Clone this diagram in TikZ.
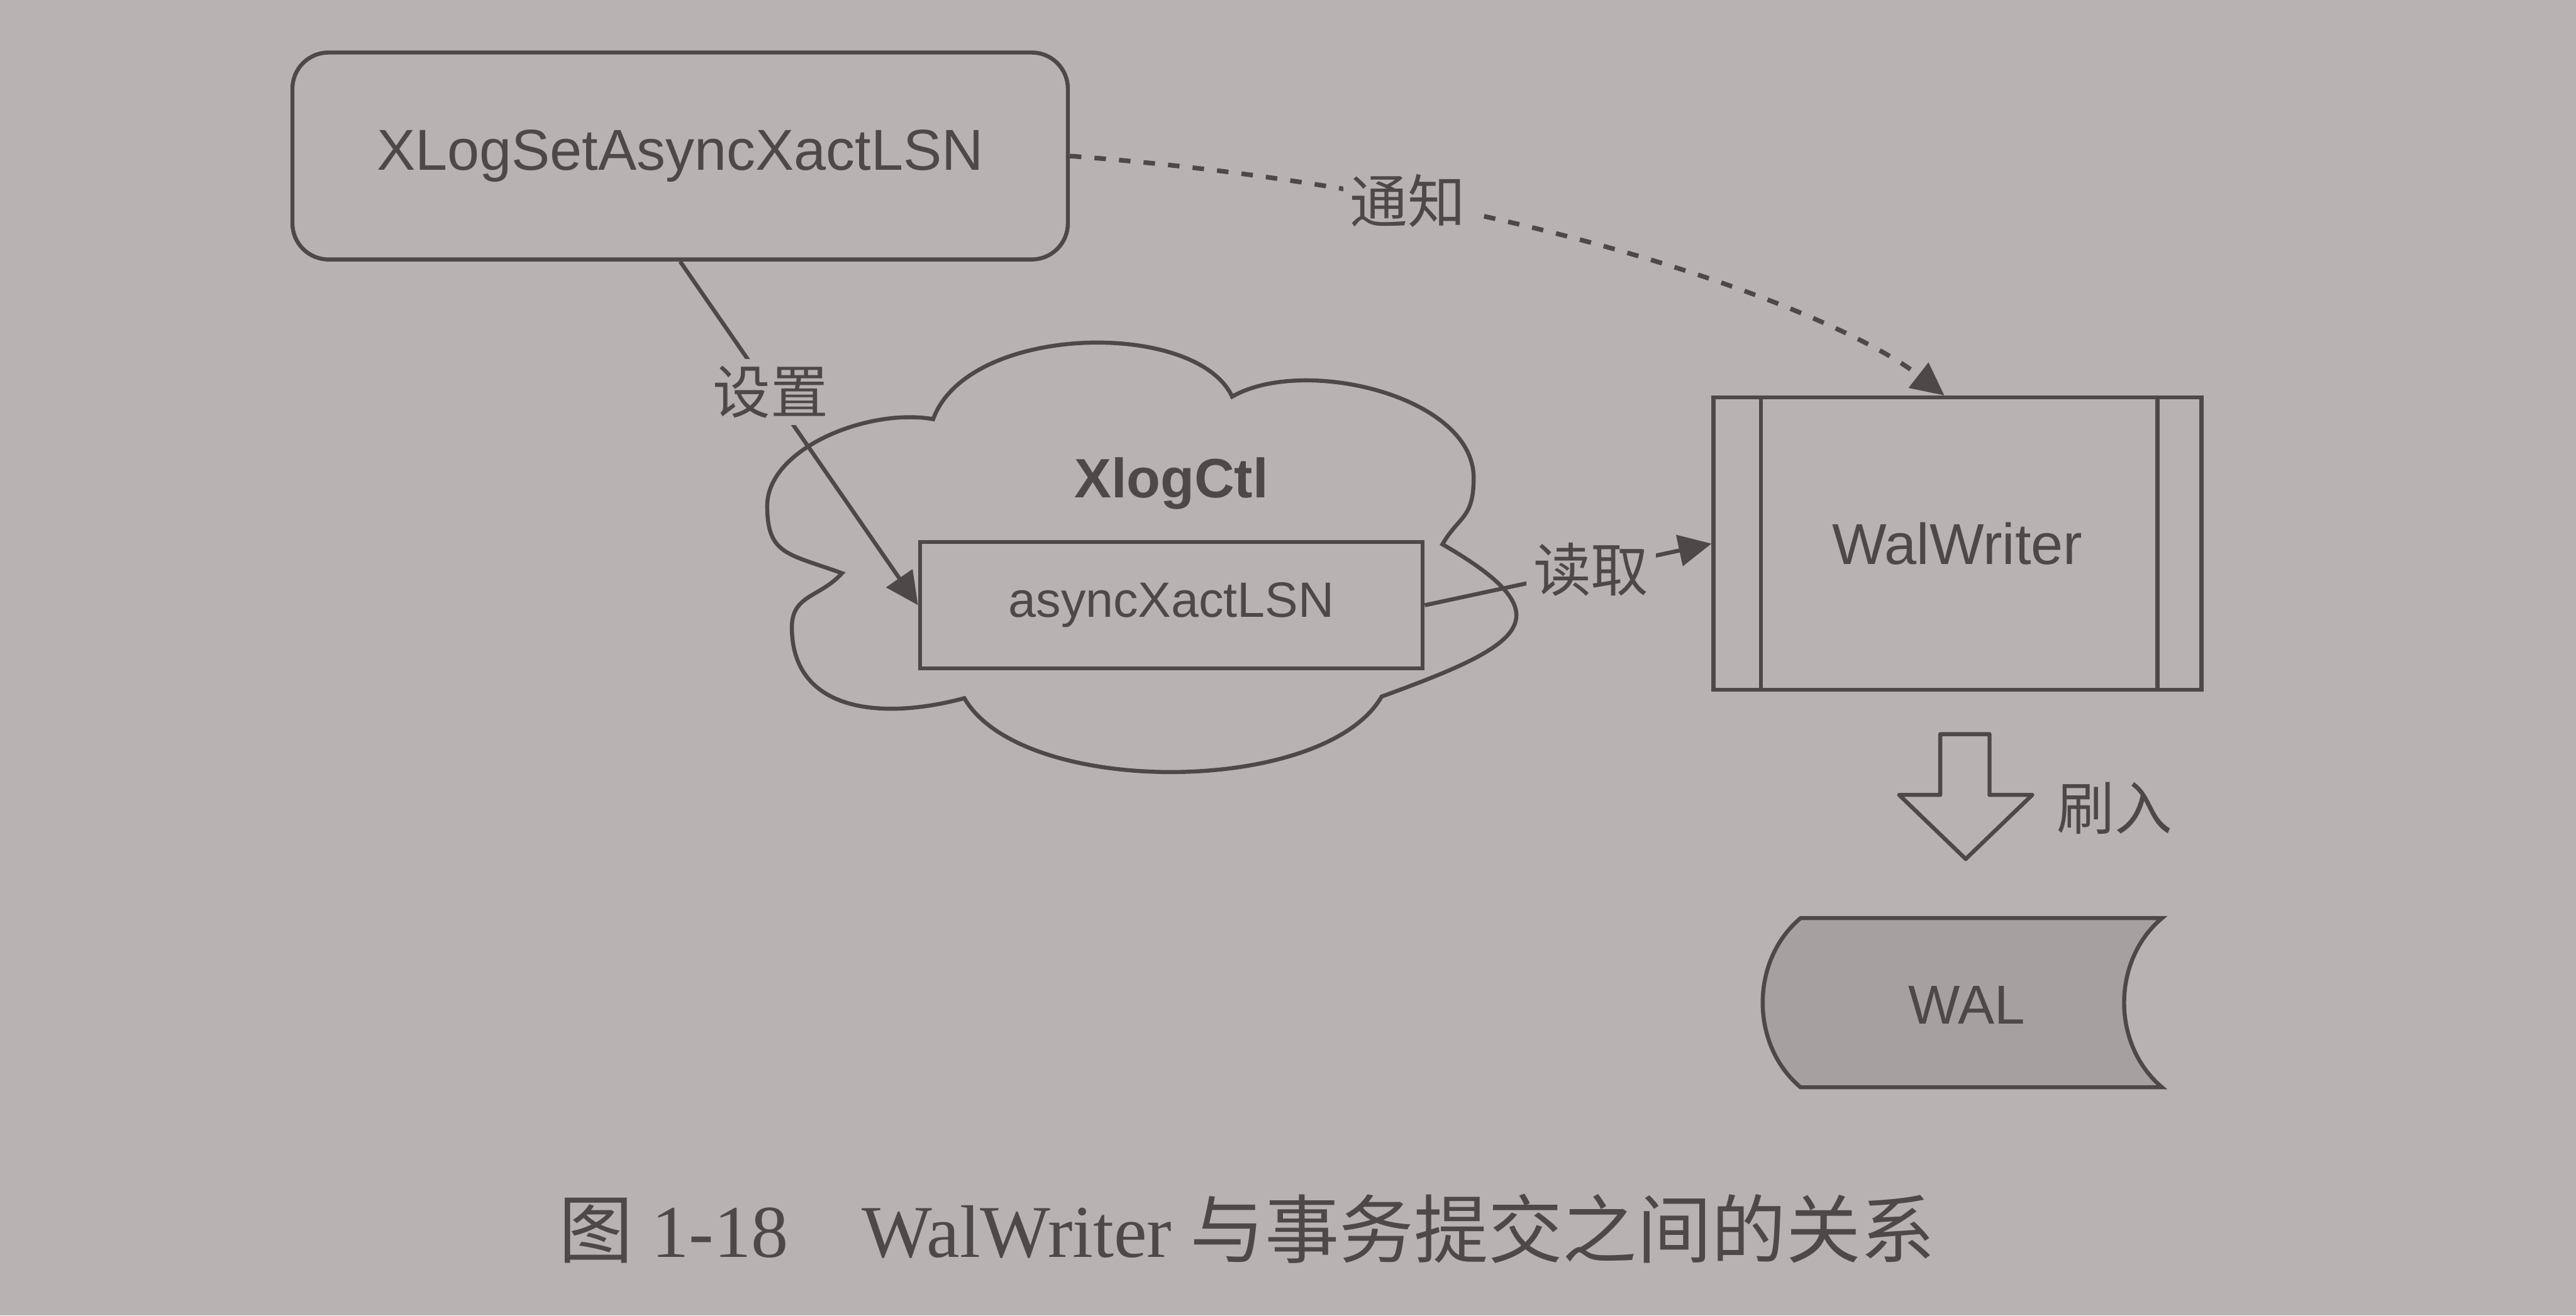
\documentclass[tikz,border=0pt]{standalone}
\usepackage{fontspec}
\setmainfont{Liberation Sans}
\newfontfamily\cjk{Noto Sans CJK SC}
\newfontfamily\capserif{Liberation Serif}
\usetikzlibrary{arrows.meta, positioning, calc}
\definecolor{paper}{RGB}{185,178,178}
\definecolor{ink}{RGB}{78,72,72}
\definecolor{walfill}{RGB}{167,160,160}
\tikzset{
  every picture/.style={font=\fontsize{10}{12}\selectfont, line width=0.7pt, color=ink},
  box/.style={draw=ink, align=center, inner sep=0pt},
  link/.style={-{Triangle[length=2mm, width=1.9mm]}, draw=ink, line width=0.7pt},
  notify/.style={dash pattern=on 0.7mm off 0.8mm, line width=0.8pt},
  lbl/.style={font=\cjk\fontsize{10}{12}\selectfont, fill=paper, inner sep=1.2pt, text=ink},
  caption/.style={font=\capserif\fontsize{12.9}{15}\selectfont, text=ink},
}

\begin{document}
\begin{tikzpicture}
  \fill[paper] (0,0) rectangle (15.68,8.01);
  \useasboundingbox (0,0) rectangle (15.68,8.01);
  % caller
  \node[box, rounded corners=2.2mm, minimum width=4.72cm, minimum height=1.26cm] (setfn) at (4.14,7.06) {XLogSetAsyncXactLSN};
  % XlogCtl cloud, one puff after another
  \draw (5.68,5.458) .. controls +(70:0.62) and +(115:0.52) .. (7.50,5.595)
    .. controls +(30:0.5) and +(90:0.5) .. (8.97,5.10)
    .. controls +(270:0.25) and +(60:0.2) .. (8.78,4.696)
    .. controls +(-30:0.9) and +(20:0.9) .. (8.41,3.769)
    .. controls +(240:0.7) and +(300:0.7) .. (5.87,3.759)
    .. controls +(195:0.55) and +(270:0.5) .. (4.82,4.19)
    .. controls +(90:0.2) and +(228:0.2) .. (5.125,4.52)
    .. controls +(160:0.35) and +(270:0.3) .. (4.67,4.93)
    .. controls +(90:0.35) and +(170:0.4) .. (5.68,5.458) -- cycle;
  \node[box, fill=paper, minimum width=3.06cm, minimum height=0.77cm, font=\fontsize{8.6}{10}\selectfont] (lsn) at (7.13,4.325) {asyncXactLSN};
  \node[anchor=base, font=\bfseries\fontsize{9.6}{11}\selectfont] (ctlname) at (7.13,4.98) {XlogCtl};
  % writer process
  \node[box, minimum width=2.97cm, minimum height=1.78cm] (ww) at (11.915,4.70) {WalWriter};
  \draw ([xshift=3mm]ww.north west) -- ([xshift=3mm]ww.south west);
  \draw ([xshift=-2.8mm]ww.north east) -- ([xshift=-2.8mm]ww.south east);
  % flush to disk
  \draw[line join=round] (11.81,3.54) -- (12.11,3.54) -- (12.11,3.17) -- (12.37,3.17) -- (11.965,2.78) -- (11.56,3.17) -- (11.81,3.17) -- cycle;
  \node[lbl] (flushlbl) at (12.87,3.09) {刷入};
  \draw[fill=walfill] (10.96,2.42) -- (13.16,2.42) to[bend right=50] (13.16,1.39) -- (10.96,1.39) to[bend left=50] cycle;
  \node[font=\fontsize{9.5}{11}\selectfont] (wal) at (11.97,1.89) {WAL};
  % connectors
  \draw[link] (setfn.south) -- node[lbl, pos=0.38] {设置} (lsn.west);
  \draw[link] (lsn.east) -- node[lbl, pos=0.58] {读取} (ww.west);
  \draw[link, notify] (setfn.east) .. controls (9.3,6.85) and (11.2,6.1) .. node[lbl, pos=0.27] {通知} ([xshift=-0.8mm]ww.north);
  \node[caption] (cap) at (7.59,0.53) {{\cjk 图} 1-18\hspace{0.45cm}WalWriter {\cjk 与事务提交之间的关系}};
\end{tikzpicture}
\end{document}
